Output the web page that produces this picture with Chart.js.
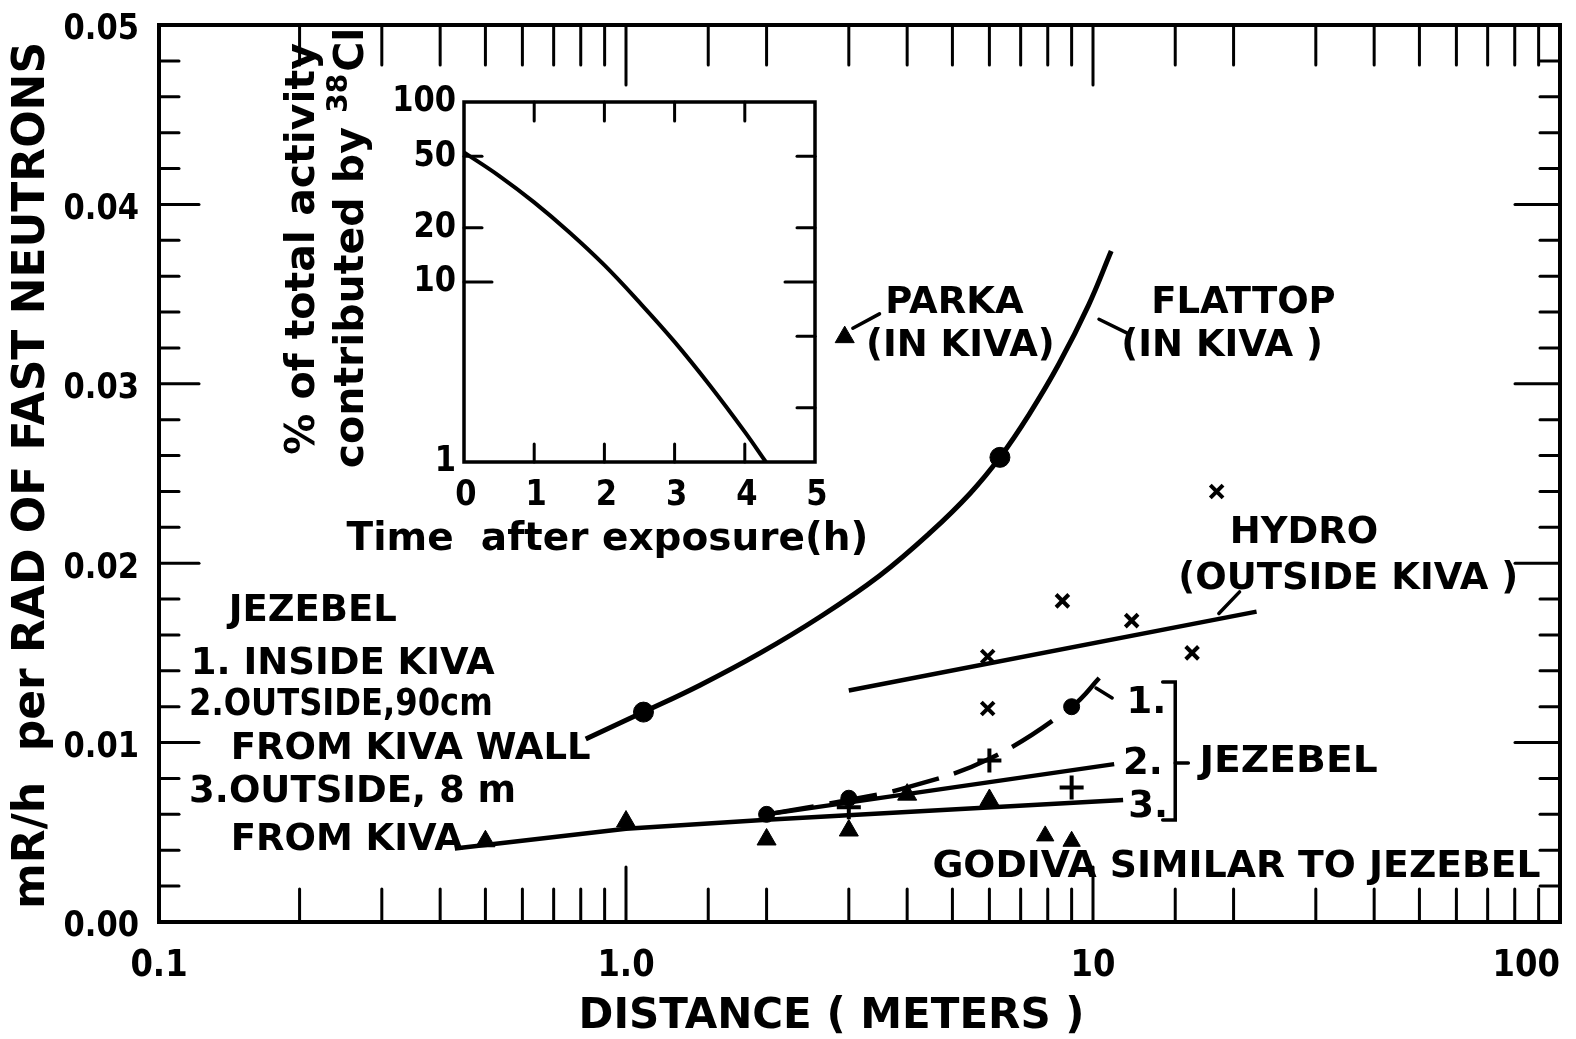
<!DOCTYPE html>
<html>
<head>
<meta charset="utf-8">
<title>Fast neutron activation vs distance</title>
<script src="https://cdn.jsdelivr.net/npm/chart.js@4"></script>
<style>
  html, body { margin: 0; padding: 0; background: #fff; }
  #wrap { position: relative; width: 1576px; height: 1039px; }
  #main { position: absolute; left: 0; top: 0; }
  #inset { position: absolute; left: 250px; top: 20px; }
</style>
</head>
<body>
<div id="wrap">
  <canvas id="main" width="1576" height="1039"></canvas>
  <canvas id="inset" width="700" height="560"></canvas>
</div>
<script>
// ---- main chart data (distance in m, mR/h per rad of fast neutrons) ----
const flattopX = [0.82, 1.09, 1.44, 1.94, 2.6, 3.49, 4.48, 5.46, 6.32, 7.3, 8.45, 9.79, 10.94];
const flattopY = [0.0102, 0.0117, 0.0132, 0.0150, 0.0170, 0.0193, 0.0217, 0.0239, 0.0259, 0.0283, 0.0311, 0.0344, 0.0374];
const flattopPtsX = [1.09, 6.32];
const flattopPtsY = [0.0117, 0.0259];
const parkaX = [2.94];
const parkaY = [0.0326];

const hydroLineX = [3.0, 22.4];
const hydroLineY = [0.0129, 0.0173];
const hydroX = [5.95, 5.95, 8.6, 12.1, 16.3, 18.4];
const hydroY = [0.0148, 0.0119, 0.0179, 0.0168, 0.0150, 0.0240];

const jez1X = [2, 3, 4, 6, 9, 10.4];
const jez1Y = [0.0060, 0.0068, 0.0075, 0.0091, 0.0120, 0.0137];
const jez2X = [2, 11.1];
const jez2Y = [0.0060, 0.0088];
const jez3X = [0.43, 1.0, 2.0, 11.6];
const jez3Y = [0.0041, 0.0052, 0.0057, 0.0068];

const circleX = [2, 3, 9];
const circleY = [0.0060, 0.0069, 0.0120];
const triX = [0.5, 1.0, 2.0, 3.0, 4.0, 6.0];
const triY = [0.0045, 0.0056, 0.0046, 0.0051, 0.0071, 0.0068];
const plusX = [3, 6, 9];
const plusY = [0.0064, 0.0090, 0.0075];
const godivaX = [7.9, 9.0];
const godivaY = [0.0048, 0.0045];

const xLabelVals = [0.1, 1, 10, 100];
const xLabels = ['0.1', '1.0', '10', '100'];
const yLabelVals = [0, 0.01, 0.02, 0.03, 0.04, 0.05];
const yLabels = ['0.00', '0.01', '0.02', '0.03', '0.04', '0.05'];

// ---- inset data (time after exposure in h, % of activity from 38Cl) ----
const insetT = [0, 0.5, 1, 1.5, 2, 2.5, 3, 3.5, 4, 4.3];
const insetPct = [52.5, 38.9, 27.7, 18.9, 12.4, 7.7, 4.65, 2.67, 1.47, 1.0];
const insetXLabels = [0, 1, 2, 3, 4, 5];
const insetYLabels = [1, 10, 20, 50, 100];
const insetLeftTicks = [10, 20, 50];
const insetRightTicks = [2, 5, 10, 20, 50];

const FONT = "'DejaVu Sans', sans-serif";

// text notes placed in data coordinates of the main chart
const notes = [
  { text: 'PARKA', x: 5.05, y: 0.0347, align: 'center' },
  { text: '(IN KIVA)', x: 5.2, y: 0.0323, align: 'center' },
  { text: 'FLATTOP', x: 21.0, y: 0.0347, align: 'center' },
  { text: '(IN KIVA )', x: 18.9, y: 0.0323, align: 'center' },
  { text: 'HYDRO', x: 28.3, y: 0.0219, align: 'center' },
  { text: '(OUTSIDE KIVA )', x: 35.2, y: 0.0193, align: 'center' },
  { text: 'JEZEBEL', x: 0.141, y: 0.01756, align: 'left' },
  { text: '1. INSIDE KIVA', x: 0.117, y: 0.0146, align: 'left' },
  { text: '2.OUTSIDE,90cm', x: 0.116, y: 0.01232, align: 'left', sx: 0.87 },
  { text: 'FROM KIVA WALL', x: 0.1424, y: 0.00987, align: 'left' },
  { text: '3.OUTSIDE, 8 m', x: 0.116, y: 0.00747, align: 'left' },
  { text: 'FROM KIVA', x: 0.1424, y: 0.00479, align: 'left' },
  { text: '1.', x: 11.8, y: 0.0124, align: 'left' },
  { text: '2.', x: 11.6, y: 0.0090, align: 'left' },
  { text: '3.', x: 11.9, y: 0.00663, align: 'left' },
  { text: 'JEZEBEL', x: 16.9, y: 0.00914, align: 'left', sx: 1.06 },
  { text: 'GODIVA SIMILAR TO JEZEBEL', x: 4.53, y: 0.00329, align: 'left', sx: 1.02 }
];

// leader lines and the bracket, also in data coordinates
const leaders = [
  [[3.49, 0.0339], [3.06, 0.0331]],
  [[10.3, 0.0336], [11.9, 0.0328]],
  [[18.6, 0.0172], [20.6, 0.0184]],
  [[10.15, 0.01304], [10.99, 0.01249]],
  [[14.1, 0.01338], [15.0, 0.01338], [15.0, 0.00569], [14.1, 0.00569]],
  [[15.0, 0.00886], [16.0, 0.00886]]
];

function pts(xs, ys) {
  return xs.map((x, i) => ({ x: x, y: ys[i] }));
}

function seg(ctx, x1, y1, x2, y2) {
  ctx.beginPath();
  ctx.moveTo(x1, y1);
  ctx.lineTo(x2, y2);
  ctx.stroke();
}

// sx < 1 squeezes the glyphs sideways, closer to the narrow lettering of the original
function txt(ctx, s, x, y, size, align, sx) {
  ctx.save();
  ctx.translate(x, y);
  ctx.scale(sx || 1, 1);
  ctx.font = 'bold ' + size + 'px ' + FONT;
  ctx.textAlign = align || 'center';
  ctx.textBaseline = 'middle';
  ctx.fillText(s, 0, 0);
  ctx.restore();
}

function isDecade(v) {
  const l = Math.log10(v);
  return Math.abs(l - Math.round(l)) < 1e-9;
}

function isHundredth(v) {
  return Math.abs(v * 100 - Math.round(v * 100)) < 1e-6;
}

const mainDecor = {
  id: 'mainDecor',
  afterDraw(chart) {
    const { ctx, chartArea: a } = chart;
    const xs = chart.scales.x, ys = chart.scales.y;
    const X = v => xs.getPixelForValue(v);
    const Y = v => ys.getPixelForValue(v);
    ctx.save();
    ctx.strokeStyle = '#000';
    ctx.fillStyle = '#000';
    ctx.lineCap = 'round';

    // frame and inward ticks on all four sides
    ctx.lineWidth = 4;
    ctx.strokeRect(a.left, a.top, a.right - a.left, a.bottom - a.top);
    ctx.lineWidth = 3;
    xs.ticks.forEach(t => {
      if (t.value <= xs.min || t.value >= xs.max) return;
      const px = X(t.value);
      const major = isDecade(t.value);
      seg(ctx, px, a.bottom, px, a.bottom - (major ? 55 : 33));
      seg(ctx, px, a.top, px, a.top + (major ? 60 : 40));
    });
    ys.ticks.forEach(t => {
      if (t.value <= ys.min || t.value >= ys.max) return;
      const py = Y(t.value);
      const major = isHundredth(t.value);
      seg(ctx, a.left, py, a.left + (major ? 40 : 20), py);
      seg(ctx, a.right, py, a.right - (major ? 45 : 20), py);
    });

    // tick labels
    xLabelVals.forEach((v, i) => {
      const last = i === xLabelVals.length - 1;
      txt(ctx, xLabels[i], X(v), a.bottom + 44, 38, last ? 'right' : 'center', 0.85);
    });
    yLabelVals.forEach((v, i) => {
      txt(ctx, yLabels[i], a.left - 20, Y(v) + 5, 36, 'right', 0.85);
    });

    // axis titles
    txt(ctx, 'DISTANCE ( METERS )', (a.left + a.right) / 2 - 28, a.bottom + 95, 42, 'center');
    ctx.save();
    ctx.translate(33, (a.top + a.bottom) / 2 + 2);
    ctx.rotate(-Math.PI / 2);
    txt(ctx, 'mR/h  per RAD OF FAST NEUTRONS', 0, 0, 44, 'center');
    ctx.restore();

    // notes
    notes.forEach(n => txt(ctx, n.text, X(n.x), Y(n.y) + 4, 37, n.align, n.sx));

    // leaders and bracket
    ctx.lineWidth = 3.5;
    leaders.forEach(l => {
      ctx.beginPath();
      l.forEach((p, i) => {
        if (i === 0) ctx.moveTo(X(p[0]), Y(p[1]));
        else ctx.lineTo(X(p[0]), Y(p[1]));
      });
      ctx.stroke();
    });
    ctx.restore();
  }
};

const lineStyle = { showLine: true, pointRadius: 0, borderColor: '#000', borderWidth: 4.5 };
const markStyle = { showLine: false, borderColor: '#000', backgroundColor: '#000' };

new Chart(document.getElementById('main'), {
  type: 'scatter',
  data: {
    datasets: [
      Object.assign({ data: pts(flattopX, flattopY), tension: 0.4 }, lineStyle, { borderWidth: 5 }),
      Object.assign({ data: pts(hydroLineX, hydroLineY) }, lineStyle),
      Object.assign({ data: pts(jez1X, jez1Y), tension: 0.4, borderDash: [48, 16] }, lineStyle),
      Object.assign({ data: pts(jez2X, jez2Y) }, lineStyle),
      Object.assign({ data: pts(jez3X, jez3Y) }, lineStyle),
      Object.assign({ data: pts(flattopPtsX, flattopPtsY), pointStyle: 'circle', pointRadius: 10 }, markStyle),
      Object.assign({ data: pts(circleX, circleY), pointStyle: 'circle', pointRadius: 8 }, markStyle),
      Object.assign({ data: pts(triX, triY), pointStyle: 'triangle', pointRadius: 11 }, markStyle),
      Object.assign({ data: pts(godivaX, godivaY), pointStyle: 'triangle', pointRadius: 10 }, markStyle),
      Object.assign({ data: pts(parkaX, parkaY), pointStyle: 'triangle', pointRadius: 11 }, markStyle),
      Object.assign({ data: pts(plusX, plusY), pointStyle: 'cross', pointRadius: 12, borderWidth: 4 }, markStyle),
      Object.assign({ data: pts(hydroX, hydroY), pointStyle: 'crossRot', pointRadius: 9, borderWidth: 4 }, markStyle)
    ]
  },
  options: {
    responsive: false,
    animation: false,
    layout: { padding: { left: 0, top: 25, right: 7, bottom: 0 } },
    plugins: { legend: { display: false }, tooltip: { enabled: false } },
    scales: {
      x: {
        type: 'logarithmic', min: 0.1, max: 100,
        ticks: { display: false },
        grid: { display: false },
        border: { display: false },
        afterFit: s => { s.height = 117; }
      },
      y: {
        type: 'linear', min: 0, max: 0.05,
        ticks: { display: false, stepSize: 0.002 },
        grid: { display: false },
        border: { display: false },
        afterFit: s => { s.width = 159; }
      }
    }
  },
  plugins: [mainDecor]
});

const insetDecor = {
  id: 'insetDecor',
  afterDraw(chart) {
    const { ctx, chartArea: a } = chart;
    const xs = chart.scales.x, ys = chart.scales.y;
    const X = v => xs.getPixelForValue(v);
    const Y = v => ys.getPixelForValue(v);
    ctx.save();
    ctx.strokeStyle = '#000';
    ctx.fillStyle = '#000';
    ctx.lineCap = 'round';
    ctx.lineWidth = 3.5;
    ctx.strokeRect(a.left, a.top, a.right - a.left, a.bottom - a.top);

    ctx.lineWidth = 3;
    xs.ticks.forEach(t => {
      if (t.value <= xs.min || t.value >= xs.max) return;
      const px = X(t.value);
      seg(ctx, px, a.bottom, px, a.bottom - 18);
      seg(ctx, px, a.top, px, a.top + 19);
    });
    insetLeftTicks.forEach(v => seg(ctx, a.left, Y(v), a.left + (v === 10 ? 28 : 18), Y(v)));
    insetRightTicks.forEach(v => seg(ctx, a.right, Y(v), a.right - (v === 10 ? 30 : 18), Y(v)));

    insetXLabels.forEach(v => txt(ctx, String(v), X(v) + 2, a.bottom + 34, 36, 'center', 0.85));
    insetYLabels.forEach(v => txt(ctx, String(v), a.left - 8, Y(v), 36, 'right', 0.85));

    txt(ctx, 'Time  after exposure(h)', (a.left + a.right) / 2 - 32, a.bottom + 78, 39, 'center');

    // rotated two-line title with superscript 38
    ctx.save();
    ctx.translate(53, 229);
    ctx.rotate(-Math.PI / 2);
    txt(ctx, '% of total activity', 0, 0, 41, 'center');
    ctx.font = 'bold 41px ' + FONT;
    const w1 = ctx.measureText('contributed by ').width;
    const w3 = ctx.measureText('Cl').width;
    ctx.font = 'bold 28px ' + FONT;
    const w2 = ctx.measureText('38').width;
    const x0 = -(w1 + w2 + w3) / 2;
    txt(ctx, 'contributed by ', x0, 49, 41, 'left');
    txt(ctx, '38', x0 + w1, 37, 28, 'left');
    txt(ctx, 'Cl', x0 + w1 + w2 + 2, 49, 41, 'left');
    ctx.restore();
    ctx.restore();
  }
};

new Chart(document.getElementById('inset'), {
  type: 'scatter',
  data: {
    datasets: [
      { data: pts(insetT, insetPct), showLine: true, pointRadius: 0, borderColor: '#000', borderWidth: 4, tension: 0.4 }
    ]
  },
  options: {
    responsive: false,
    animation: false,
    layout: { padding: { left: 0, top: 82, right: 135, bottom: 0 } },
    plugins: { legend: { display: false }, tooltip: { enabled: false } },
    scales: {
      x: {
        type: 'linear', min: 0, max: 5,
        ticks: { display: false, stepSize: 1 },
        grid: { display: false },
        border: { display: false },
        afterFit: s => { s.height = 118; }
      },
      y: {
        type: 'logarithmic', min: 1, max: 100,
        ticks: { display: false },
        grid: { display: false },
        border: { display: false },
        afterFit: s => { s.width = 214; }
      }
    }
  },
  plugins: [insetDecor]
});
</script>
</body>
</html>
